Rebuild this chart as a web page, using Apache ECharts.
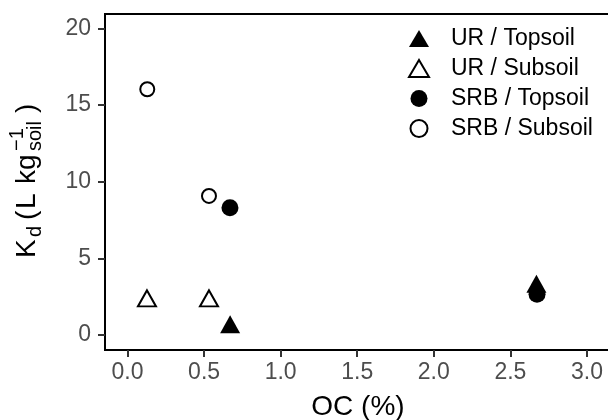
<!DOCTYPE html>
<html style="height: 100%">
<head>
<meta charset="utf-8">
<script src="https://cdn.jsdelivr.net/npm/echarts@6/dist/echarts.min.js"></script>
</head>
<body style="height: 100%; margin: 0; background: #fff">
<div id="container" style="width: 608px; height: 420px"></div>
<script type="text/javascript">
// organic carbon (%) and Kd (L/kg soil)
var urTopOC = [0.67, 2.67];
var urTopKd = [0.70, 3.35];
var urSubOC = [0.127, 0.532];
var urSubKd = [2.39, 2.39];
var srbTopOC = [0.669, 2.674];
var srbTopKd = [8.30, 2.66];
var srbSubOC = [0.129, 0.532];
var srbSubKd = [16.03, 9.07];

var xTicks = [0, 0.5, 1, 1.5, 2, 2.5, 3];
var yTicks = [0, 5, 10, 15, 20];

var FONT = '"Liberation Sans", Arial, Helvetica, sans-serif';

function pairs(xs, ys) {
    return xs.map(function (x, i) { return [x, ys[i]]; });
}

var dom = document.getElementById('container');
var myChart = echarts.init(dom, null, { renderer: 'canvas' });

// y axis title: K_d (L kg_soil^-1), laid out by hand and rotated
function piece(text, x, base, fs) {
    return {
        type: 'text',
        style: {
            text: text, x: x, y: base - 0.31 * fs,
            font: fs + 'px ' + FONT, fill: '#000',
            verticalAlign: 'middle', align: 'left'
        }
    };
}
var yTitle = {
    type: 'group',
    x: 36, y: 258,
    rotation: Math.PI / 2,
    children: [
        piece('K', 0, 0, 28),
        piece('d', 21, 6, 20),
        piece('(', 38, 0, 28),
        piece('L', 49, 0, 28),
        piece('kg', 74, 0, 28),
        piece('soil', 107, 6, 20),
        piece('\u22121', 107, -12, 20),
        piece(')', 145, 0, 28)
    ]
};

var option = {
    animation: false,
    textStyle: { fontFamily: FONT },
    grid: {
        left: 105, top: 14, width: 506, height: 336,
        show: true, borderColor: '#000', borderWidth: 2,
        outerBoundsMode: 'none'
    },
    legend: {
        orient: 'vertical',
        left: 403, top: 22,
        itemWidth: 20, itemHeight: 17, itemGap: 7,
        textStyle: { fontSize: 23, color: '#000', fontFamily: FONT, padding: [0, 0, 0, 17] },
        data: ['UR / Topsoil', 'UR / Subsoil', 'SRB / Topsoil', 'SRB / Subsoil']
    },
    xAxis: {
        type: 'value',
        min: -0.147, max: 3.157,
        splitLine: { show: false },
        axisLine: { show: true, onZero: false, lineStyle: { color: '#000', width: 2 } },
        axisTick: { show: true, customValues: xTicks, length: 7, lineStyle: { color: '#333', width: 2 } },
        axisLabel: {
            customValues: xTicks, fontSize: 23, color: '#4D4D4D', margin: 11, fontFamily: FONT,
            formatter: function (v) { return v.toFixed(1); }
        },
        name: 'OC (%)', nameLocation: 'middle', nameGap: 43,
        nameTextStyle: { fontSize: 28, color: '#000', fontFamily: FONT }
    },
    yAxis: {
        type: 'value',
        min: -0.978, max: 20.94,
        splitLine: { show: false },
        axisLine: { show: true, onZero: false, lineStyle: { color: '#000', width: 2 } },
        axisTick: { show: true, customValues: yTicks, length: 7, lineStyle: { color: '#333', width: 2 } },
        axisLabel: { customValues: yTicks, fontSize: 23, color: '#4D4D4D', margin: 14, fontFamily: FONT }
    },
    graphic: [yTitle],
    series: [
        {
            name: 'UR / Topsoil', type: 'scatter', symbol: 'triangle', symbolSize: [20, 18],
            itemStyle: { color: '#000', opacity: 1 },
            data: pairs(urTopOC, urTopKd)
        },
        {
            name: 'UR / Subsoil', type: 'scatter', symbol: 'triangle', symbolSize: [18, 16],
            itemStyle: { color: '#fff', borderColor: '#000', borderWidth: 2, opacity: 1 },
            data: pairs(urSubOC, urSubKd)
        },
        {
            name: 'SRB / Topsoil', type: 'scatter', symbol: 'circle', symbolSize: 17,
            itemStyle: { color: '#000', opacity: 1 },
            data: pairs(srbTopOC, srbTopKd)
        },
        {
            name: 'SRB / Subsoil', type: 'scatter', symbol: 'circle', symbolSize: 14,
            itemStyle: { color: '#fff', borderColor: '#000', borderWidth: 2, opacity: 1 },
            data: pairs(srbSubOC, srbSubKd)
        }
    ]
};

myChart.setOption(option);
window.onresize = myChart.resize;
</script>
</body>
</html>
